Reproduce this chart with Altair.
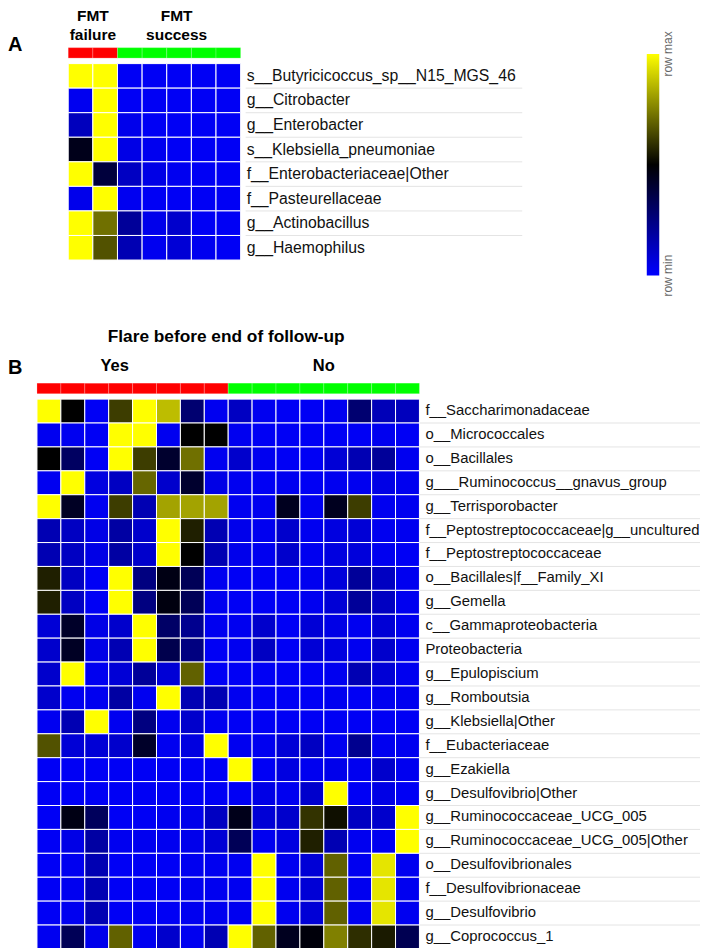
import altair as alt
import pandas as pd

# ---------------- data ----------------
A_SAMPLES = ["F1", "F2", "S1", "S2", "S3", "S4", "S5"]
A_GROUPS = ["failure", "failure", "success", "success", "success", "success", "success"]
A_HEADER_1 = ["FMT", "FMT"]
A_HEADER_2 = ["failure", "success"]
A_TAXA = [
    "s__Butyricicoccus_sp__N15_MGS_46",
    "g__Citrobacter",
    "g__Enterobacter",
    "s__Klebsiella_pneumoniae",
    "f__Enterobacteriaceae|Other",
    "f__Pasteurellaceae",
    "g__Actinobacillus",
    "g__Haemophilus",
]
A_VALUES = [
    [1.00, 1.00, 0.02, 0.02, 0.02, 0.02, 0.02],
    [0.03, 1.00, 0.02, 0.02, 0.02, 0.02, 0.02],
    [0.13, 1.00, 0.04, 0.02, 0.02, 0.02, 0.02],
    [0.45, 1.00, 0.05, 0.03, 0.02, 0.02, 0.02],
    [1.00, 0.38, 0.12, 0.05, 0.03, 0.02, 0.02],
    [0.04, 1.00, 0.03, 0.02, 0.02, 0.02, 0.02],
    [1.00, 0.72, 0.20, 0.04, 0.10, 0.02, 0.02],
    [1.00, 0.66, 0.15, 0.03, 0.08, 0.03, 0.02],
]

B_SAMPLES = ["Y1", "Y2", "Y3", "Y4", "Y5", "Y6", "Y7", "Y8",
             "N1", "N2", "N3", "N4", "N5", "N6", "N7", "N8"]
B_GROUPS = ["Yes", "Yes", "Yes", "Yes", "Yes", "Yes", "Yes", "Yes",
            "No", "No", "No", "No", "No", "No", "No", "No"]
B_TITLE = "Flare before end of follow-up"
B_TAXA = [
    "f__Saccharimonadaceae",
    "o__Micrococcales",
    "o__Bacillales",
    "g___Ruminococcus__gnavus_group",
    "g__Terrisporobacter",
    "f__Peptostreptococcaceae|g__uncultured",
    "f__Peptostreptococcaceae",
    "o__Bacillales|f__Family_XI",
    "g__Gemella",
    "c__Gammaproteobacteria",
    "Proteobacteria",
    "g__Epulopiscium",
    "g__Romboutsia",
    "g__Klebsiella|Other",
    "f__Eubacteriaceae",
    "g__Ezakiella",
    "g__Desulfovibrio|Other",
    "g__Ruminococcaceae_UCG_005",
    "g__Ruminococcaceae_UCG_005|Other",
    "o__Desulfovibrionales",
    "f__Desulfovibrionaceae",
    "g__Desulfovibrio",
    "g__Coprococcus_1",
]
B_VALUES = [
    [1.00, 0.50, 0.02, 0.62, 1.00, 0.87, 0.28, 0.03, 0.12, 0.03, 0.02, 0.02, 0.03, 0.28, 0.14, 0.13],
    [0.03, 0.03, 0.02, 1.00, 1.00, 0.03, 0.50, 0.50, 0.03, 0.02, 0.02, 0.02, 0.02, 0.02, 0.03, 0.02],
    [0.50, 0.31, 0.02, 1.00, 0.62, 0.41, 0.72, 0.03, 0.10, 0.03, 0.02, 0.02, 0.08, 0.15, 0.20, 0.03],
    [0.03, 1.00, 0.06, 0.12, 0.70, 0.10, 0.41, 0.05, 0.03, 0.02, 0.03, 0.02, 0.03, 0.03, 0.05, 0.03],
    [1.00, 0.43, 0.03, 0.62, 0.15, 0.82, 0.82, 0.82, 0.03, 0.03, 0.44, 0.03, 0.44, 0.62, 0.03, 0.03],
    [0.15, 0.12, 0.05, 0.18, 0.10, 1.00, 0.56, 0.15, 0.04, 0.03, 0.10, 0.03, 0.06, 0.08, 0.03, 0.03],
    [0.15, 0.12, 0.05, 0.18, 0.10, 1.00, 0.50, 0.15, 0.04, 0.03, 0.10, 0.03, 0.06, 0.07, 0.03, 0.02],
    [0.56, 0.12, 0.02, 1.00, 0.25, 0.46, 0.33, 0.03, 0.02, 0.02, 0.02, 0.03, 0.07, 0.20, 0.12, 0.03],
    [0.56, 0.12, 0.02, 1.00, 0.25, 0.47, 0.33, 0.03, 0.02, 0.02, 0.02, 0.03, 0.08, 0.20, 0.12, 0.03],
    [0.08, 0.42, 0.05, 0.10, 1.00, 0.30, 0.22, 0.03, 0.03, 0.10, 0.02, 0.08, 0.05, 0.03, 0.08, 0.03],
    [0.10, 0.43, 0.05, 0.15, 1.00, 0.35, 0.25, 0.02, 0.03, 0.12, 0.02, 0.08, 0.06, 0.03, 0.10, 0.03],
    [0.10, 1.00, 0.03, 0.08, 0.20, 0.08, 0.69, 0.02, 0.02, 0.02, 0.02, 0.02, 0.03, 0.15, 0.08, 0.03],
    [0.10, 0.03, 0.03, 0.18, 0.03, 1.00, 0.15, 0.15, 0.03, 0.02, 0.02, 0.02, 0.03, 0.02, 0.03, 0.03],
    [0.03, 0.15, 1.00, 0.03, 0.25, 0.03, 0.10, 0.03, 0.02, 0.02, 0.02, 0.02, 0.02, 0.02, 0.02, 0.02],
    [0.66, 0.08, 0.08, 0.10, 0.42, 0.03, 0.06, 1.00, 0.03, 0.03, 0.08, 0.12, 0.03, 0.22, 0.03, 0.03],
    [0.02, 0.02, 0.02, 0.02, 0.02, 0.02, 0.02, 0.02, 1.00, 0.02, 0.06, 0.03, 0.04, 0.03, 0.10, 0.03],
    [0.02, 0.02, 0.02, 0.02, 0.02, 0.02, 0.02, 0.02, 0.02, 0.05, 0.03, 0.10, 1.00, 0.02, 0.05, 0.02],
    [0.02, 0.46, 0.32, 0.02, 0.02, 0.03, 0.04, 0.12, 0.45, 0.08, 0.10, 0.60, 0.53, 0.12, 0.10, 1.00],
    [0.02, 0.05, 0.18, 0.03, 0.03, 0.03, 0.04, 0.08, 0.33, 0.03, 0.06, 0.56, 0.15, 0.03, 0.03, 1.00],
    [0.02, 0.03, 0.15, 0.02, 0.02, 0.02, 0.03, 0.03, 0.03, 1.00, 0.03, 0.08, 0.69, 0.03, 0.95, 0.03],
    [0.02, 0.03, 0.15, 0.02, 0.02, 0.02, 0.03, 0.03, 0.03, 1.00, 0.03, 0.08, 0.69, 0.03, 0.95, 0.03],
    [0.02, 0.03, 0.15, 0.02, 0.02, 0.02, 0.03, 0.03, 0.03, 1.00, 0.03, 0.08, 0.69, 0.03, 0.95, 0.03],
    [0.03, 0.33, 0.04, 0.69, 0.03, 0.10, 0.03, 0.15, 1.00, 0.69, 0.44, 0.48, 0.75, 0.59, 0.55, 0.34],
]

LEGEND_LABELS = ["row max", "row min"]

# ---------------- styles ----------------
FONT = "Liberation Sans"
RED, GREEN = "#ff0000", "#00ff00"
HEAT_SCALE = alt.Scale(domain=[0, 0.5, 1], range=["#0000ff", "#000000", "#ffff00"], interpolate="rgb")
LEG_X, LEG_Y, LEG_LEN, LEG_THICK = 610.7, 6.3, 222, 12.5
LEGEND = alt.Legend(
    orient="none", legendX=LEG_X, legendY=LEG_Y, direction="vertical", title=None,
    gradientLength=LEG_LEN, gradientThickness=LEG_THICK, gradientStrokeWidth=0,
    values=[0, 1], labelExpr="''", labelOpacity=0, labelOffset=0, padding=0, offset=0,
)


def heat_frame(taxa, samples, values):
    rows = []
    for i, t in enumerate(taxa):
        for j, s in enumerate(samples):
            rows.append({"taxon": t, "sample": s, "value": values[i][j]})
    return pd.DataFrame(rows)


def header_text(sample, label, xs, band_pos, y, size):
    return alt.Chart(pd.DataFrame({"sample": [sample], "label": [label]})).mark_text(
        font=FONT, fontWeight="bold", fontSize=size, baseline="alphabetic",
        align="center", color="black",
    ).encode(
        x=alt.X("sample:N", scale=xs, axis=None, bandPosition=band_pos),
        y=alt.value(y),
        text="label:N",
    )


def heat_panel(taxa, samples, values, x0, cw, ch, rule_start, rule_end, extra_h, label_size):
    width = x0 + cw * len(samples)
    height = ch * len(taxa)
    xs = alt.Scale(type="band", domain=samples, range=[x0, width], paddingInner=0, paddingOuter=0)
    ys = alt.Scale(type="band", domain=taxa, range=[0, height], paddingInner=0, paddingOuter=0)
    df = heat_frame(taxa, samples, values)
    rects = alt.Chart(df).mark_rect(stroke="white", strokeWidth=1).encode(
        x=alt.X("sample:N", scale=xs, axis=None),
        y=alt.Y("taxon:N", scale=ys, axis=None),
        color=alt.Color("value:Q", scale=HEAT_SCALE, legend=LEGEND),
    )
    tdf = pd.DataFrame({"taxon": taxa})
    labels = alt.Chart(tdf).mark_text(
        font=FONT, fontSize=label_size, align="left", baseline="middle", color="#111111"
    ).encode(
        y=alt.Y("taxon:N", scale=ys, axis=None, bandPosition=0.5),
        x=alt.value(width + 6),
        text="taxon:N",
    )
    rdf = pd.DataFrame({"taxon": taxa[:-1]})
    rules = alt.Chart(rdf).mark_rule(color="#e4e4e4", strokeWidth=1).encode(
        y=alt.Y("taxon:N", scale=ys, axis=None, bandPosition=1),
        x=alt.value(width + rule_start),
        x2=alt.value(width + rule_end),
    )
    return alt.layer(rules, rects, labels).properties(width=width, height=height + extra_h), xs


def bar_panel(samples, groups, xs, width, height):
    df = pd.DataFrame({"sample": samples, "group": groups})
    first = groups[0]
    return alt.Chart(df).mark_rect(stroke="white", strokeOpacity=0.35, strokeWidth=0.6).encode(
        x=alt.X("sample:N", scale=xs, axis=None),
        color=alt.condition(alt.datum.group == first, alt.value(RED), alt.value(GREEN)),
    ).properties(width=width, height=height)


GAP = 5
HEAD_SIZE = 15.5
# ---------------- panel A ----------------
A_X0, A_CW, A_CH = 31.3, 24.67, 24.59
heatA, xsA = heat_panel(A_TAXA, A_SAMPLES, A_VALUES, A_X0, A_CW, A_CH, 5, 282, 117.7, 15.8)
A_WIDTH = A_X0 + A_CW * len(A_SAMPLES)
barA = bar_panel(A_SAMPLES, A_GROUPS, xsA, A_WIDTH, 10.5)

anchor = alt.Chart(pd.DataFrame({"k": [0]})).mark_rule(strokeOpacity=0, strokeWidth=0.01).encode(
    x=alt.value(-29), x2=alt.value(-28), y=alt.value(-39)
)
letterA = alt.Chart(pd.DataFrame({"t": ["A"]})).mark_text(
    font=FONT, fontWeight="bold", fontSize=20, align="left", baseline="alphabetic"
).encode(x=alt.value(-29), y=alt.value(3), text="t:N")
headA = [
    header_text("F2", A_HEADER_1[0], xsA, 0, -27, HEAD_SIZE),
    header_text("F2", A_HEADER_2[0], xsA, 0, -8, HEAD_SIZE),
    header_text("S3", A_HEADER_1[1], xsA, 0.4, -27, HEAD_SIZE),
    header_text("S3", A_HEADER_2[1], xsA, 0.4, -8, HEAD_SIZE),
]
legTexts = alt.Chart(pd.DataFrame({"t": LEGEND_LABELS})).mark_text(
    font=FONT, fontSize=12, color="#666666", angle=270, align="center", baseline="middle"
).encode(
    x=alt.value(LEG_X + LEG_THICK + 9),
    y=alt.Y("t:N", sort=LEGEND_LABELS,
            scale=alt.Scale(type="point", domain=LEGEND_LABELS, range=[LEG_Y, LEG_Y + LEG_LEN],
                            padding=0),
            axis=None),
    text="t:N",
)
topA = alt.layer(anchor, barA, letterA, *headA, legTexts)

# ---------------- panel B ----------------
B_X0, B_CW, B_CH = 0, 23.94, 23.94
heatB, xsB = heat_panel(B_TAXA, B_SAMPLES, B_VALUES, B_X0, B_CW, B_CH, 0, 281, 0, 14.9)
B_WIDTH = B_X0 + B_CW * len(B_SAMPLES)
barB = bar_panel(B_SAMPLES, B_GROUPS, xsB, B_WIDTH, 10.6)
letterB = alt.Chart(pd.DataFrame({"t": ["B"]})).mark_text(
    font=FONT, fontWeight="bold", fontSize=20, align="left", baseline="alphabetic"
).encode(x=alt.value(-29), y=alt.value(-8.7), text="t:N")
titleB = alt.Chart(pd.DataFrame({"t": [B_TITLE]})).mark_text(
    font=FONT, fontWeight="bold", fontSize=17.3, align="center", baseline="alphabetic"
).encode(x=alt.value(B_WIDTH / 2 - 2), y=alt.value(-41), text="t:N")
yesB = header_text("Y4", B_GROUPS[0], xsB, 0.25, -11.7, 16.5)
noB = header_text("N5", B_GROUPS[-1], xsB, 0, -11.7, 16.5)
topB = alt.layer(barB, letterB, titleB, yesB, noB)

chart = (
    alt.vconcat(topA, heatA, topB, heatB, spacing=GAP, bounds="flush")
    .resolve_scale(x="independent", y="independent", color="shared")
    .properties(padding=0)
    .configure_view(stroke=None)
)

chart.save("out.html", embed_options={"renderer": "svg", "actions": False})
